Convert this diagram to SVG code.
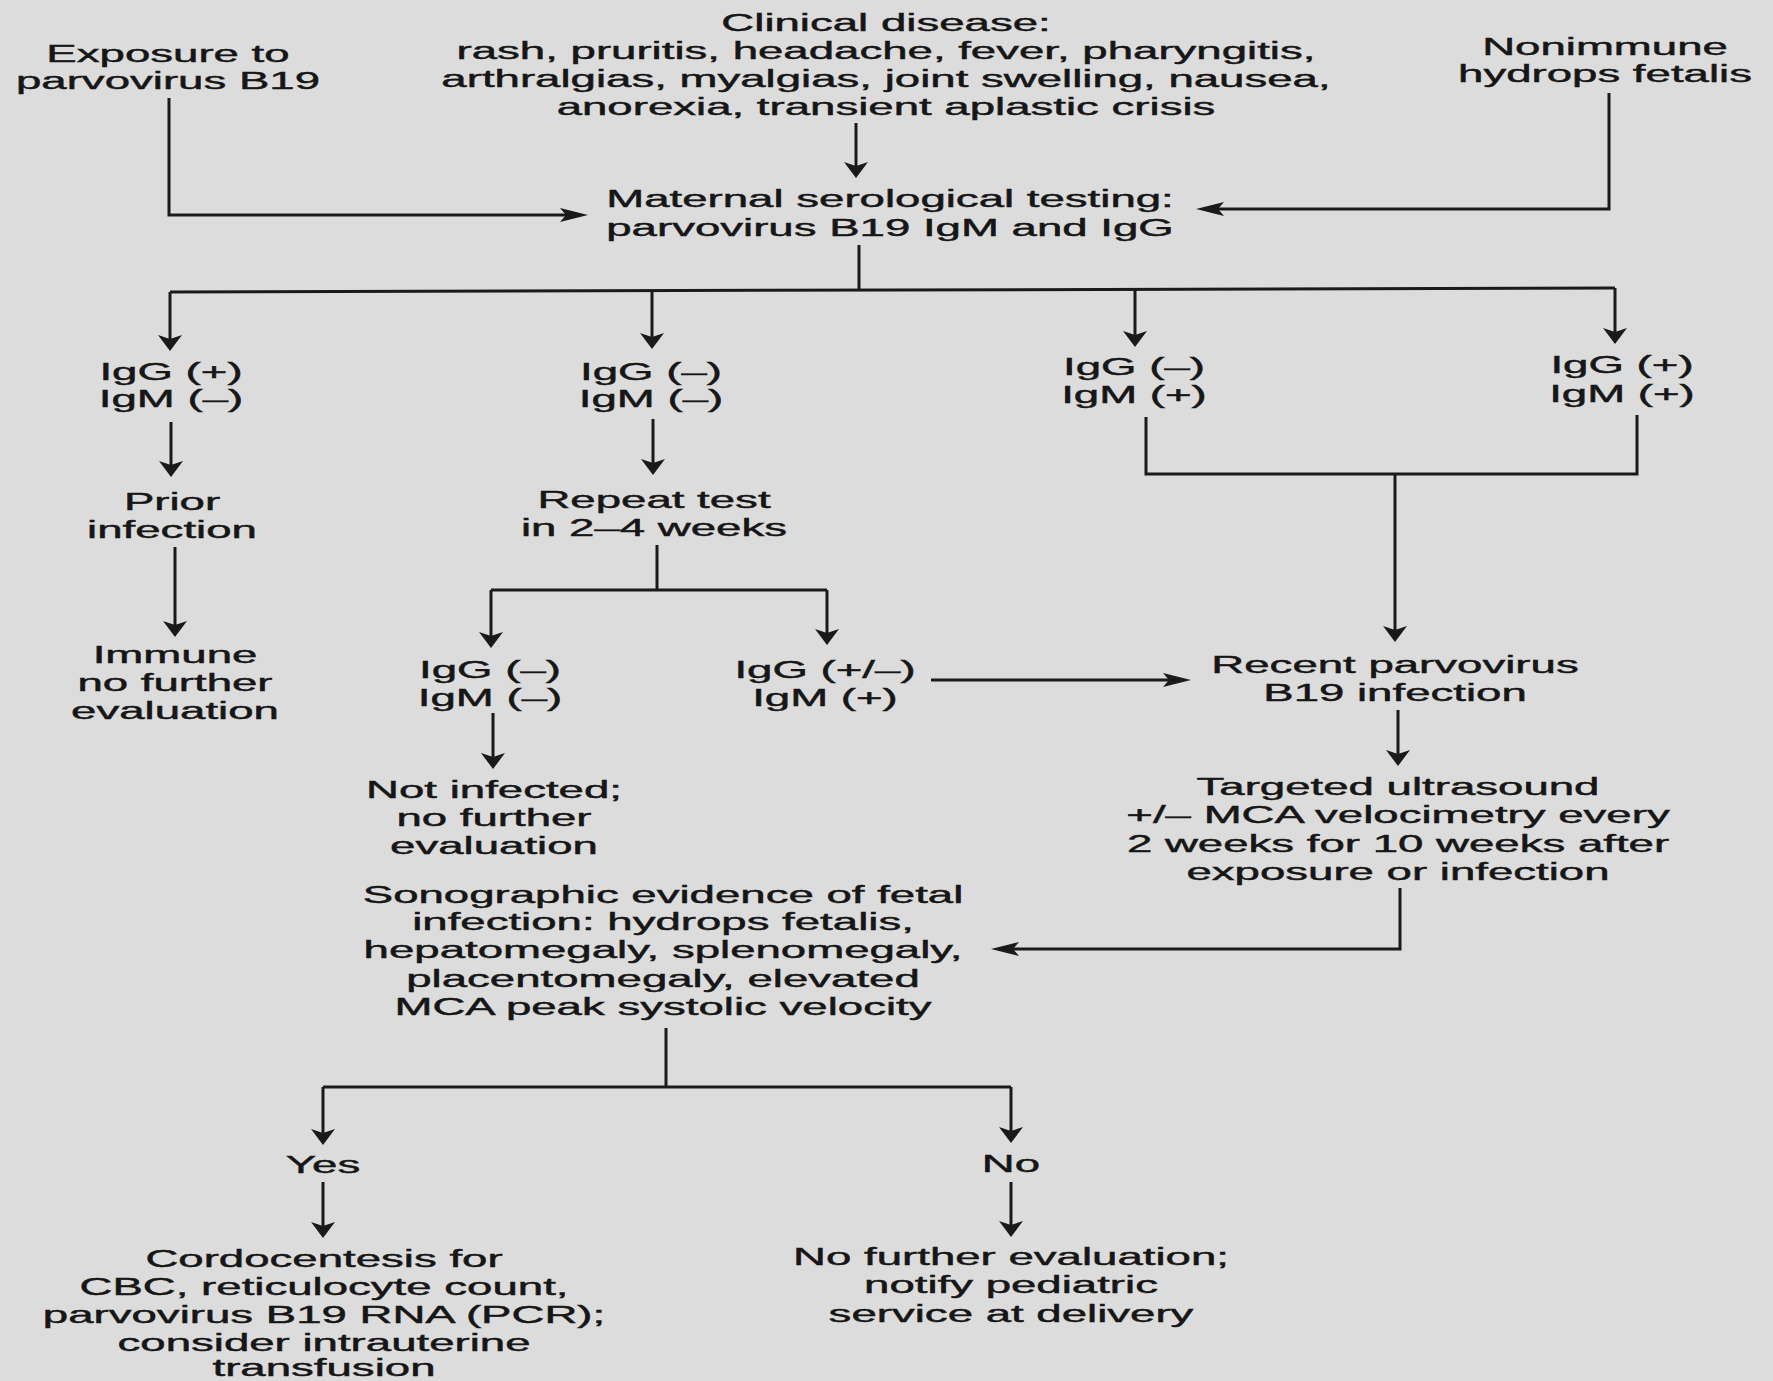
<svg xmlns="http://www.w3.org/2000/svg" width="1773" height="1381" viewBox="0 0 1773 1381">
<style>
.t{font-family:"Liberation Sans",Arial,Helvetica,sans-serif;font-size:24px;fill:#161616;stroke:#161616;stroke-width:0.45;text-anchor:middle}
.c{fill:none;stroke:#1a1a1a;stroke-width:3;stroke-linejoin:miter}
.dn{marker-end:url(#ad)}
.hz{marker-end:url(#ah)}
</style>
<defs>
<marker id="ad" markerUnits="userSpaceOnUse" viewBox="0 -12 16 24" markerWidth="16" markerHeight="24" refX="8" refY="0" orient="auto">
<path d="M0,-12 L16,0 L0,12 L4,0 Z" fill="#1a1a1a"/>
</marker>
<marker id="ah" markerUnits="userSpaceOnUse" viewBox="0 -7 28 14" markerWidth="28" markerHeight="14" refX="18" refY="0" orient="auto">
<path d="M0,-7 L28,0 L0,7 L6,0 Z" fill="#1a1a1a"/>
</marker>
</defs>
<rect x="0" y="0" width="1773" height="1381" fill="#dcdcdc"/>

<g id="connectors">
<path class="c hz" d="M169,98 V215 H578"/>
<path class="c dn" d="M856,123 V170"/>
<path class="c hz" d="M1609,93 V209 H1206"/>
<path class="c" d="M859,245 V291"/>
<path class="c" d="M170,292 L1615,288"/>
<path class="c dn" d="M170,292 V343"/>
<path class="c dn" d="M652,291 V341"/>
<path class="c dn" d="M1135,289 V339"/>
<path class="c dn" d="M1615,288 V336"/>
<path class="c dn" d="M171,422 V469"/>
<path class="c dn" d="M653,419 V467"/>
<path class="c dn" d="M175,547 V629"/>
<path class="c" d="M657,545 V590"/>
<path class="c" d="M491,590 H827"/>
<path class="c dn" d="M491,590 V640"/>
<path class="c dn" d="M827,590 V637"/>
<path class="c" d="M1146,417 V474 H1637 V415"/>
<path class="c dn" d="M1395,474 V634"/>
<path class="c dn" d="M493,713 V761"/>
<path class="c hz" d="M931,680 H1181"/>
<path class="c dn" d="M1398,710 V758"/>
<path class="c hz" d="M1400,888 V949 H1001"/>
<path class="c" d="M666,1028 V1087"/>
<path class="c" d="M323,1087 H1011"/>
<path class="c dn" d="M323,1087 V1137"/>
<path class="c dn" d="M1011,1087 V1135"/>
<path class="c dn" d="M323,1182 V1230"/>
<path class="c dn" d="M1011,1182 V1229"/>
</g>

<g id="n-exposure"><text class="t" transform="translate(168,0) scale(1.9,1)"><tspan x="0" y="62">Exposure to</tspan><tspan x="0" y="89">parvovirus B19</tspan></text></g>
<g id="n-clinical"><text class="t" transform="translate(886,0) scale(1.9,1)"><tspan x="0" y="31">Clinical disease:</tspan><tspan x="0" y="59">rash, pruritis, headache, fever, pharyngitis,</tspan><tspan x="0" y="87">arthralgias, myalgias, joint swelling, nausea,</tspan><tspan x="0" y="115">anorexia, transient aplastic crisis</tspan></text></g>
<g id="n-nonimmune"><text class="t" transform="translate(1605,0) scale(1.9,1)"><tspan x="0" y="55">Nonimmune</tspan><tspan x="0" y="82">hydrops fetalis</tspan></text></g>
<g id="n-maternal"><text class="t" transform="translate(890,0) scale(1.9,1)"><tspan x="0" y="207">Maternal serological testing:</tspan><tspan x="0" y="236">parvovirus B19 IgM and IgG</tspan></text></g>
<g id="n-gpmm"><text class="t" transform="translate(171,0) scale(1.9,1)"><tspan x="0" y="380">IgG (+)</tspan><tspan x="0" y="407">IgM (–)</tspan></text></g>
<g id="n-gmmm"><text class="t" transform="translate(651,0) scale(1.9,1)"><tspan x="0" y="380">IgG (–)</tspan><tspan x="0" y="407">IgM (–)</tspan></text></g>
<g id="n-gmmp"><text class="t" transform="translate(1134,0) scale(1.9,1)"><tspan x="0" y="375">IgG (–)</tspan><tspan x="0" y="403">IgM (+)</tspan></text></g>
<g id="n-gpmp"><text class="t" transform="translate(1622,0) scale(1.9,1)"><tspan x="0" y="373">IgG (+)</tspan><tspan x="0" y="402">IgM (+)</tspan></text></g>
<g id="n-prior"><text class="t" transform="translate(172,0) scale(1.9,1)"><tspan x="0" y="510">Prior</tspan><tspan x="0" y="538">infection</tspan></text></g>
<g id="n-repeat"><text class="t" transform="translate(654,0) scale(1.9,1)"><tspan x="0" y="508">Repeat test</tspan><tspan x="0" y="536">in 2–4 weeks</tspan></text></g>
<g id="n-immune"><text class="t" transform="translate(175,0) scale(1.9,1)"><tspan x="0" y="663">Immune</tspan><tspan x="0" y="691">no further</tspan><tspan x="0" y="719">evaluation</tspan></text></g>
<g id="n-gmmm2"><text class="t" transform="translate(490,0) scale(1.9,1)"><tspan x="0" y="678">IgG (–)</tspan><tspan x="0" y="706">IgM (–)</tspan></text></g>
<g id="n-gpmmp"><text class="t" transform="translate(825,0) scale(1.9,1)"><tspan x="0" y="678">IgG (+/–)</tspan><tspan x="0" y="706">IgM (+)</tspan></text></g>
<g id="n-recent"><text class="t" transform="translate(1395,0) scale(1.9,1)"><tspan x="0" y="673">Recent parvovirus</tspan><tspan x="0" y="701">B19 infection</tspan></text></g>
<g id="n-notinfected"><text class="t" transform="translate(494,0) scale(1.9,1)"><tspan x="0" y="798">Not infected;</tspan><tspan x="0" y="826">no further</tspan><tspan x="0" y="854">evaluation</tspan></text></g>
<g id="n-targeted"><text class="t" transform="translate(1398,0) scale(1.9,1)"><tspan x="0" y="795">Targeted ultrasound</tspan><tspan x="0" y="823">+/– MCA velocimetry every</tspan><tspan x="0" y="852">2 weeks for 10 weeks after</tspan><tspan x="0" y="880">exposure or infection</tspan></text></g>
<g id="n-sonographic"><text class="t" transform="translate(663,0) scale(1.9,1)"><tspan x="0" y="903">Sonographic evidence of fetal</tspan><tspan x="0" y="930">infection: hydrops fetalis,</tspan><tspan x="0" y="958">hepatomegaly, splenomegaly,</tspan><tspan x="0" y="987">placentomegaly, elevated</tspan><tspan x="0" y="1015">MCA peak systolic velocity</tspan></text></g>
<g id="n-yes"><text class="t" transform="translate(323,0) scale(1.9,1)"><tspan x="0" y="1173">Yes</tspan></text></g>
<g id="n-no"><text class="t" transform="translate(1011,0) scale(1.9,1)"><tspan x="0" y="1172">No</tspan></text></g>
<g id="n-cordo"><text class="t" transform="translate(324,0) scale(1.9,1)"><tspan x="0" y="1267">Cordocentesis for</tspan><tspan x="0" y="1295">CBC, reticulocyte count,</tspan><tspan x="0" y="1323">parvovirus B19 RNA (PCR);</tspan><tspan x="0" y="1351">consider intrauterine</tspan><tspan x="0" y="1376">transfusion</tspan></text></g>
<g id="n-nofurther"><text class="t" transform="translate(1011,0) scale(1.9,1)"><tspan x="0" y="1265">No further evaluation;</tspan><tspan x="0" y="1293">notify pediatric</tspan><tspan x="0" y="1322">service at delivery</tspan></text></g>
</svg>
